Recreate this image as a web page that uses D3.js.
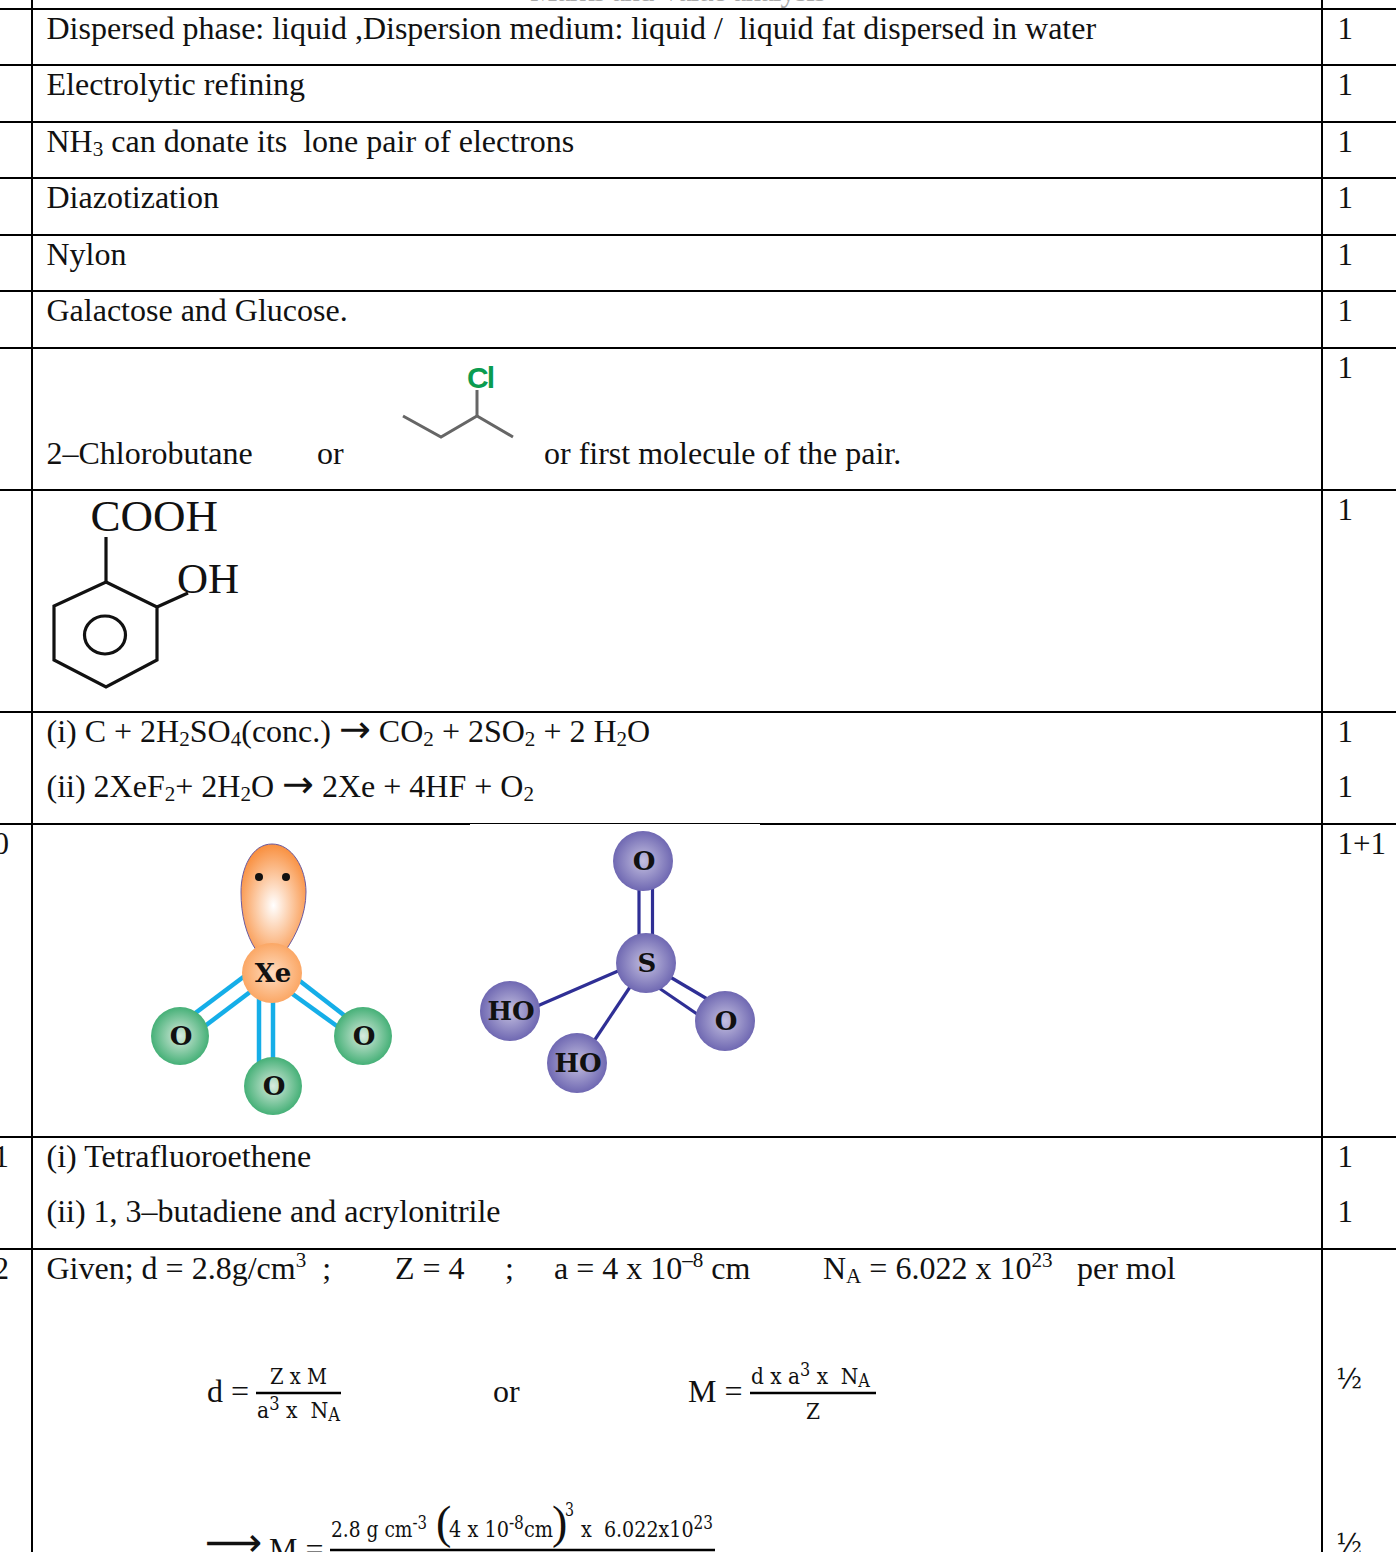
<!DOCTYPE html>
<html>
<head>
<meta charset="utf-8">
<script src="https://cdn.jsdelivr.net/npm/d3@7"></script>
<style>
html, body { margin: 0; padding: 0; background: #fff; overflow: hidden; }
text { white-space: pre; fill: #111; }
</style>
</head>
<body>
<div id="chart-area"></div>
<script>
// table content. {_x} is a subscript, {^x} a superscript, {>x} an arrow
var answerLines = [
	"Dispersed phase: liquid ,Dispersion medium: liquid /  liquid fat dispersed in water",
	"Electrolytic refining",
	"NH{_3} can donate its  lone pair of electrons",
	"Diazotization",
	"Nylon",
	"Galactose and Glucose.",
	"2–Chlorobutane",
	"or",
	"or first molecule of the pair.",
	"(i) C + 2H{_2}SO{_4}(conc.) {>→} CO{_2} + 2SO{_2} + 2 H{_2}O",
	"(ii) 2XeF{_2}+ 2H{_2}O {>→} 2Xe + 4HF + O{_2}",
	"(i) Tetrafluoroethene",
	"(ii) 1, 3–butadiene and acrylonitrile",
	"Given; d = 2.8g/cm{^3}  ;",
	"Z = 4",
	";",
	"a = 4 x 10{^–8} cm",
	"N{_A} = 6.022 x 10{^23}",
	"per mol",
	"d =",
	"or",
	"M =",
	"M ="
];
var marks = ["1", "1", "1", "1", "1", "1", "1", "1", "1", "1", "1+1", "1", "1"];
var halfMarks = ["½", "½"];
var questionNumbers = ["10", "11", "12"];
var fractionParts = ["Z x M", "a{^3} x  N{_A}", "d x a{^3} x  N{_A}", "Z", "2.8 g cm{^-3}", "4 x 10{^-8}cm", "3", "x  6.022x10{^23}"];
var xenonAtoms = ["Xe", "O", "O", "O"];
var sulfurAtoms = ["O", "S", "HO", "HO", "O"];
var headerScrap = "Marks and Value analysis";

// layout
var completeWidth = 1396;
var completeHeight = 1552;
var serif = "'Liberation Serif', serif";
var mathFont = "'DejaVu Serif', serif";
var rowRules = [9, 65, 122, 178, 235, 291, 348, 490, 712, 824, 1137, 1249];
var colRules = [32, 1322];
var answerPos = [
	[46.5, 39], [46.5, 95], [46.5, 152], [46.5, 208], [46.5, 265], [46.5, 321],
	[46.5, 464], [317, 464], [544, 464],
	[46.5, 742], [46.5, 797],
	[46.5, 1167], [46.5, 1222],
	[46.5, 1279], [395, 1279], [505, 1279], [554, 1279], [823, 1279], [1077, 1279],
	[207, 1402], [493, 1402], [688, 1402], [269, 1560]
];
var markPos = [39, 95, 152, 208, 265, 321, 378, 520, 742, 797, 854, 1167, 1222];
var halfPos = [1388, 1553];
var questionPos = [854, 1167, 1279];

var svg = d3.select("#chart-area")
	.append("svg")
		.attr("width", completeWidth)
		.attr("height", completeHeight)
		.style("display", "block");

var defs = svg.append("defs");
function ballGradient(id, inner, outer) {
	var g = defs.append("radialGradient").attr("id", id);
	g.append("stop").attr("offset", "0%").attr("stop-color", inner);
	g.append("stop").attr("offset", "100%").attr("stop-color", outer);
}
ballGradient("ballOrange", "#fedcc0", "#fba765");
ballGradient("ballGreen", "#d8ebde", "#45b077");
ballGradient("ballPurple", "#c4c0e0", "#6f68b2");
var lobeGrad = defs.append("radialGradient").attr("id", "lobe")
	.attr("cx", "50%").attr("cy", "58%").attr("r", "58%");
lobeGrad.append("stop").attr("offset", "0%").attr("stop-color", "#fff");
lobeGrad.append("stop").attr("offset", "100%").attr("stop-color", "#f98f3e");

// writes a string with {_x}, {^x} and {>x} parts into a text element
function rich(sel, str, size, subScale) {
	var parts = str.split(/(\{[_^>][^}]*\})/).filter(function(d) { return d !== ""; });
	var shift = 0;
	parts.forEach(function(p) {
		var m = p.match(/^\{([_^>])(.*)\}$/);
		var t = sel.append("tspan");
		if (m && m[1] === ">") {
			t.attr("dy", -shift).attr("font-family", "'DejaVu Sans', sans-serif").attr("font-size", size * 1.19).text(m[2]);
			shift = 0;
		} else if (m) {
			var off = m[1] === "_" ? size * 0.14 : -size * 0.36;
			t.attr("dy", off - shift).attr("font-size", size * subScale).text(m[2]);
			shift = off;
		} else {
			t.attr("dy", -shift).text(p);
			shift = 0;
		}
	});
}

function addText(str, x, y, size, font, anchor, subScale) {
	var t = svg.append("text")
		.attr("x", x).attr("y", y)
		.attr("font-family", font || serif)
		.attr("font-size", size)
		.attr("text-anchor", anchor || "start");
	rich(t, str, size, subScale || 0.66);
	return t;
}

// table rules
svg.selectAll(".row-rule").data(rowRules).enter().append("line")
	.attr("class", "row-rule")
	.attr("x1", 0).attr("x2", completeWidth)
	.attr("y1", function(d) { return d; }).attr("y2", function(d) { return d; })
	.attr("stroke", "#000").attr("stroke-width", 2);
svg.selectAll(".col-rule").data(colRules).enter().append("line")
	.attr("class", "col-rule")
	.attr("x1", function(d) { return d; }).attr("x2", function(d) { return d; })
	.attr("y1", 0).attr("y2", completeHeight)
	.attr("stroke", "#000").attr("stroke-width", 2);
// the pasted molecule picture thins the rule here
svg.append("rect").attr("x", 470).attr("y", 823).attr("width", 290).attr("height", 2).attr("fill", "#fff");
svg.append("line").attr("x1", 470).attr("x2", 760).attr("y1", 823.5).attr("y2", 823.5).attr("stroke", "#000").attr("stroke-width", 1);

// clipped text of the page above the table
addText(headerScrap, 530, 1, 31, serif).attr("textLength", 296).style("fill", "#aaa");

answerLines.forEach(function(line, i) {
	addText(line, answerPos[i][0], answerPos[i][1], 32);
});
marks.forEach(function(m, i) { addText(m, 1337.5, markPos[i], 31); });
halfMarks.forEach(function(m, i) { addText(m, 1336, halfPos[i], 27, mathFont); });
questionNumbers.forEach(function(q, i) { addText(q, 9, questionPos[i], 31, serif, "end"); });

// 2-chlorobutane
var chainLine = d3.line();
svg.append("path").attr("d", chainLine([[403, 416], [441, 437], [477, 416], [513, 437]]))
	.attr("fill", "none").attr("stroke", "#666").attr("stroke-width", 3);
svg.append("line").attr("x1", 477).attr("x2", 477).attr("y1", 390).attr("y2", 416)
	.attr("stroke", "#666").attr("stroke-width", 3);
addText("Cl", 467, 388, 30, "'Liberation Sans', sans-serif").attr("font-weight", "bold")
	.attr("textLength", 28).style("fill", "#0a9c50");

// salicylic acid
var hexagon = [[106, 582], [157, 607], [157, 660], [106, 687], [54, 660], [54, 606]];
svg.append("path").attr("d", d3.line().curve(d3.curveLinearClosed)(hexagon))
	.attr("fill", "none").attr("stroke", "#111").attr("stroke-width", 3.2);
svg.append("ellipse").attr("cx", 105).attr("cy", 635).attr("rx", 20.5).attr("ry", 19)
	.attr("fill", "none").attr("stroke", "#111").attr("stroke-width", 3.2);
svg.append("line").attr("x1", 106).attr("x2", 106).attr("y1", 582).attr("y2", 537).attr("stroke", "#111").attr("stroke-width", 3.2);
svg.append("line").attr("x1", 157).attr("x2", 188).attr("y1", 607).attr("y2", 593).attr("stroke", "#111").attr("stroke-width", 3.2);
addText("COOH", 90.5, 531, 45);
addText("OH", 177, 593, 43);

// XeO3 and H2SO4 pictures
var xenonBonds = [
	[246, 975, 190, 1017], [254, 989, 201, 1029],
	[296, 978, 349, 1019], [287, 990, 341, 1029],
	[259, 995, 259, 1066], [273, 995, 273, 1066]
];
var sulfurBonds = [
	[639, 880, 639, 942], [652.5, 880, 652.5, 942],
	[625, 968, 535, 1007], [634, 981, 592, 1044],
	[665, 974, 709, 1000], [656, 986, 700, 1016]
];
function drawBonds(data, colour, w) {
	svg.append("g").selectAll("line").data(data).enter().append("line")
		.attr("x1", function(d) { return d[0]; }).attr("y1", function(d) { return d[1]; })
		.attr("x2", function(d) { return d[2]; }).attr("y2", function(d) { return d[3]; })
		.attr("stroke", colour).attr("stroke-width", w);
}
drawBonds(xenonBonds, "#15aee8", 4.5);
drawBonds(sulfurBonds, "#2f2f95", 3.2);

svg.append("path")
	.attr("d", "M272,844 C292,844 306,868 306,892 C306,915 296,935 286,950 L256,950 C246,935 241,915 241,892 C241,868 252,844 272,844 Z")
	.attr("fill", "url(#lobe)").attr("stroke", "#6a5aa0").attr("stroke-width", 1);
svg.selectAll(".lone").data([259, 286]).enter().append("circle")
	.attr("class", "lone").attr("cx", function(d) { return d; }).attr("cy", 877).attr("r", 4).attr("fill", "#111");

var xenonPos = [[272, 973, 30], [180, 1036, 29], [363, 1036, 29], [273, 1086, 29]];
var sulfurPos = [[643, 861, 30], [646, 963, 30], [510, 1011, 30], [577, 1063, 30], [725, 1021, 30]];
function drawAtoms(labels, pos, fillFor) {
	labels.forEach(function(label, i) {
		svg.append("ellipse").attr("cx", pos[i][0]).attr("cy", pos[i][1])
			.attr("rx", pos[i][2]).attr("ry", pos[i][2])
			.attr("fill", fillFor(i));
		addText(label, pos[i][0] + 1, pos[i][1] + 9, 26, "'DejaVu Serif', serif", "middle")
			.attr("font-weight", "bold");
	});
}
drawAtoms(xenonAtoms, xenonPos, function(i) { return i === 0 ? "url(#ballOrange)" : "url(#ballGreen)"; });
drawAtoms(sulfurAtoms, sulfurPos, function() { return "url(#ballPurple)"; });

// formulas of question 12
var fractionBars = [[256, 341, 1393], [750, 876, 1393], [330, 715, 1550]];
fractionBars.forEach(function(b) {
	svg.append("line").attr("x1", b[0]).attr("x2", b[1]).attr("y1", b[2]).attr("y2", b[2])
		.attr("stroke", "#000").attr("stroke-width", 2.5);
});
// widths of the condensed math font
var fractionPos = [[270, 1384, 22, 57], [257, 1418, 22, 83], [751, 1384, 22, 119], [806, 1419, 22, 14], [331, 1537, 22, 96], [449, 1537, 22, 104], [565, 1516, 18, 9], [581, 1537, 22, 132]];
fractionParts.forEach(function(p, i) {
	addText(p, fractionPos[i][0], fractionPos[i][1], fractionPos[i][2], mathFont, "start", 0.8)
		.attr("textLength", fractionPos[i][3]).attr("lengthAdjust", "spacingAndGlyphs");
});
addText("(", 436, 1538, 46, serif);
addText(")", 552, 1538, 46, serif);
addText("⟶", 205, 1556, 40, "'DejaVu Sans', sans-serif");
</script>
</body>
</html>
